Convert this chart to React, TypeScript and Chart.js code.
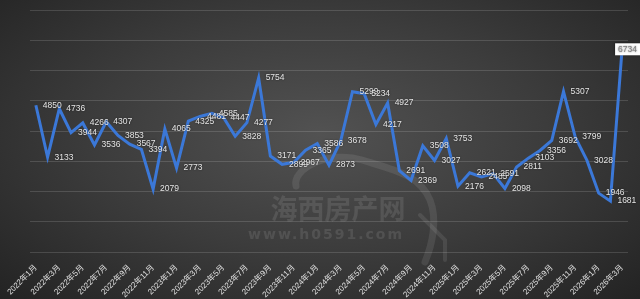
import React, { useEffect, useRef } from 'react';
import { Chart, registerables } from 'chart.js';

Chart.register(...registerables);

const monthLabels = [
  '2022年1月', '2022年2月', '2022年3月', '2022年4月', '2022年5月', '2022年6月',
  '2022年7月', '2022年8月', '2022年9月', '2022年10月', '2022年11月', '2022年12月',
  '2023年1月', '2023年2月', '2023年3月', '2023年4月', '2023年5月', '2023年6月',
  '2023年7月', '2023年8月', '2023年9月', '2023年10月', '2023年11月', '2023年12月',
  '2024年1月', '2024年2月', '2024年3月', '2024年4月', '2024年5月', '2024年6月',
  '2024年7月', '2024年8月', '2024年9月', '2024年10月', '2024年11月', '2024年12月',
  '2025年1月', '2025年2月', '2025年3月', '2025年4月', '2025年5月', '2025年6月',
  '2025年7月', '2025年8月', '2025年9月', '2025年10月', '2025年11月', '2025年12月',
  '2026年1月', '2026年2月', '2026年3月',
];

const values = [
  4850, 3133, 4736, 3944, 4266, 3536, 4307, 3853, 3567, 3394,
  2079, 4065, 2773, 4325, 4481, 4585, 4447, 3828, 4277, 5754,
  3171, 2899, 2967, 3365, 3586, 2873, 3678, 5299, 5234, 4217,
  4927, 2691, 2369, 3508, 3027, 3753, 2176, 2621, 2485, 2591,
  2098, 2811, 3103, 3356, 3692, 5307, 3799, 3028, 1946, 1681,
  6734,
];

const yMin = 0;
const yMax = 8000;
const yStep = 1000;

const watermarkTitle = '海西房产网';
const watermarkUrl = 'www.h0591.com';

const FONT = '"Liberation Sans", "Noto Sans CJK SC", sans-serif';

const watermarkPlugin = {
  id: 'watermark',
  beforeDatasetsDraw(chart: any) {
    const ctx = chart.ctx as CanvasRenderingContext2D;
    ctx.save();
    ctx.strokeStyle = 'rgba(255,255,255,0.09)';
    ctx.lineWidth = 7;
    ctx.lineCap = 'round';
    ctx.beginPath();
    ctx.moveTo(296, 186);
    ctx.bezierCurveTo(292, 168, 330, 150, 362, 160);
    ctx.bezierCurveTo(395, 170, 420, 175, 430, 200);
    ctx.bezierCurveTo(438, 220, 432, 245, 425, 262);
    ctx.stroke();
    ctx.lineWidth = 4;
    ctx.beginPath();
    ctx.moveTo(420, 215);
    ctx.lineTo(445, 240);
    ctx.lineTo(445, 260);
    ctx.stroke();
    ctx.fillStyle = 'rgba(255,255,255,0.10)';
    ctx.font = 'bold 27px "Noto Sans CJK SC", sans-serif';
    ctx.textAlign = 'center';
    ctx.textBaseline = 'middle';
    ctx.fillText(watermarkTitle, 338, 209);
    ctx.font = 'bold 14px "DejaVu Sans", sans-serif';
    (ctx as any).letterSpacing = '2px';
    ctx.fillText(watermarkUrl, 326, 235);
    ctx.restore();
  },
};

const labelPlugin = {
  id: 'pointLabels',
  afterDatasetsDraw(chart: any) {
    const ctx = chart.ctx as CanvasRenderingContext2D;
    const meta = chart.getDatasetMeta(0);
    const data = chart.data.datasets[0].data as number[];
    ctx.save();
    ctx.font = `8.5px ${FONT}`;
    ctx.textBaseline = 'middle';
    ctx.textAlign = 'left';
    meta.data.forEach((pt: any, i: number) => {
      const txt = String(data[i]);
      if (i === data.length - 1) {
        const w = ctx.measureText(txt).width + 6;
        const bx = chart.width - w;
        const by = pt.y - 5;
        ctx.fillStyle = '#ffffff';
        ctx.fillRect(bx, by, w, 12);
        ctx.fillStyle = '#7f7f7f';
        ctx.fillText(txt, bx + 3, by + 6);
      } else {
        ctx.shadowColor = 'rgba(0,0,0,0.6)';
        ctx.shadowBlur = 2;
        ctx.fillStyle = '#e6e6e6';
        ctx.fillText(txt, pt.x + 7, pt.y);
      }
    });
    ctx.restore();
  },
};

export default function App() {
  const canvasRef = useRef<HTMLCanvasElement | null>(null);

  useEffect(() => {
    document.body.style.margin = '0';
    const canvas = canvasRef.current;
    if (!canvas) return;
    const chart = new Chart(canvas, {
      type: 'line',
      data: {
        labels: monthLabels,
        datasets: [
          {
            data: values,
            borderColor: '#3b78d8',
            borderWidth: 3,
            pointRadius: 0,
            tension: 0,
            fill: false,
          },
        ],
      },
      options: {
        responsive: false,
        animation: false,
        devicePixelRatio: 1,
        layout: { padding: { left: 30, right: 12, top: 10, bottom: 0 } },
        plugins: {
          legend: { display: false },
          tooltip: { enabled: false },
        },
        scales: {
          x: {
            offset: true,
            grid: { display: false },
            border: { display: false },
            afterFit: (s: any) => { s.height = 47; },
            ticks: {
              autoSkip: false,
              maxRotation: 45,
              minRotation: 45,
              padding: 3,
              color: '#e0e0e0',
              font: { size: 8, family: FONT },
              callback: (_v: any, i: number) => (i % 2 === 0 ? monthLabels[i] : ''),
            },
          },
          y: {
            min: yMin,
            max: yMax,
            border: { display: false },
            grid: { color: 'rgba(255,255,255,0.14)', drawTicks: false, lineWidth: 1 },
            ticks: { display: false, stepSize: yStep },
            afterFit: (s: any) => { s.width = 0; },
          },
        },
      },
      plugins: [watermarkPlugin, labelPlugin],
    });
    return () => chart.destroy();
  }, []);

  return (
    <div
      style={{
        width: 640,
        height: 299,
        background: 'radial-gradient(ellipse at 50% 45%, #525252 0%, #3c3c3c 50%, #232323 100%)',
      }}
    >
      <canvas ref={canvasRef} width={640} height={299} />
    </div>
  );
}
